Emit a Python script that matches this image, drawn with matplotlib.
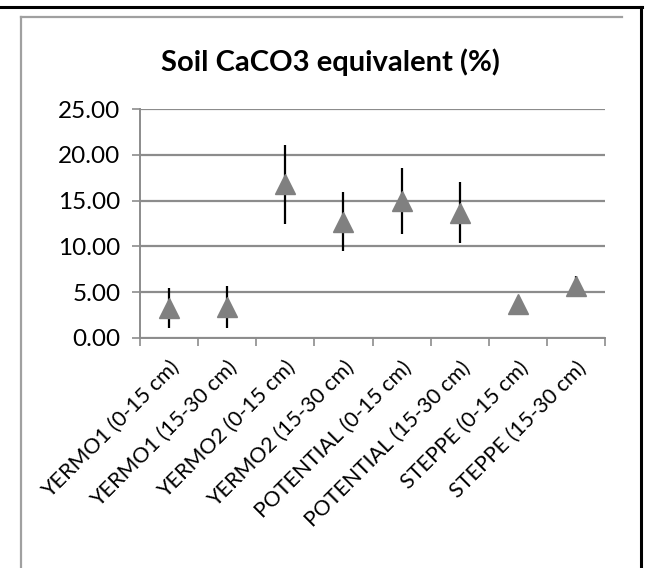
import numpy as np
import matplotlib
matplotlib.use("Agg")
import matplotlib.pyplot as plt
from matplotlib.lines import Line2D

plt.rcParams['font.family'] = ['Lato', 'DejaVu Sans']

categories = ["YERMO1 (0-15 cm)", "YERMO1 (15-30 cm)", "YERMO2 (0-15 cm)",
              "YERMO2 (15-30 cm)", "POTENTIAL (0-15 cm)", "POTENTIAL (15-30 cm)",
              "STEPPE (0-15 cm)", "STEPPE (15-30 cm)"]
means = [3.3, 3.4, 16.8, 12.7, 15.0, 13.7, 3.7, 5.7]
errors = [2.2, 2.3, 4.3, 3.2, 3.6, 3.3, 0.6, 1.1]
yticks = [0, 5, 10, 15, 20, 25]

W, H = 646, 568
fig = plt.figure(figsize=(W / 100, H / 100), dpi=100)
ax = fig.add_axes([140 / W, 1 - 338 / H, (605 - 140) / W, (338 - 109) / H])

grid_col = '#8c8c8c'
x = np.arange(len(categories))
ax.errorbar(x, means, yerr=errors, fmt='none', ecolor='black', elinewidth=1.6,
            capsize=0, zorder=3)
ax.plot(x, means, linestyle='none', marker='^', markersize=14,
        color='#808080', markeredgecolor='#808080', zorder=4)

ax.set_xlim(-0.5, len(categories) - 0.5)
ax.set_ylim(0, 25)
ax.set_yticks(yticks)
ax.set_yticklabels([f"{v:.2f}" for v in yticks], fontsize=17.5)
ax.yaxis.grid(True, color=grid_col, linewidth=1.6)
ax.set_axisbelow(True)

# ticks on the category boundaries, labels at the centres
ax.set_xticks(np.arange(len(categories) + 1) - 0.5)
ax.set_xticklabels([])
ax.set_xticks(x, minor=True)
ax.set_xticklabels(categories, minor=True, rotation=45, ha='right',
                   rotation_mode='anchor', fontsize=15.5)
ax.tick_params(axis='x', which='minor', length=0, pad=14)
ax.tick_params(axis='x', which='major', length=6, color=grid_col, width=1.2)
ax.tick_params(axis='y', length=6, color=grid_col, width=1.2, pad=8)

for s in ['top', 'right']:
    ax.spines[s].set_visible(False)
for s in ['left', 'bottom']:
    ax.spines[s].set_color(grid_col)
    ax.spines[s].set_linewidth(1.4)

fig.text(330 / W, 1 - 62 / H, "Soil CaCO3 equivalent (%)", ha='center',
         va='center', fontsize=21, fontweight='bold')

# frame lines of the screenshot
def px_line(x0, y0, x1, y1, **kw):
    fig.add_artist(Line2D([x0 / W, x1 / W], [1 - y0 / H, 1 - y1 / H],
                          transform=fig.transFigure, **kw))

px_line(0, 7, 642, 7, color='black', linewidth=2.2)
px_line(641, 7, 641, H, color='black', linewidth=2.2)
px_line(21, 17, 622, 17, color='#a0a0a0', linewidth=1.6)
px_line(21, 17, 21, H, color='#a0a0a0', linewidth=1.6)

fig.savefig("out.png", dpi=100)
